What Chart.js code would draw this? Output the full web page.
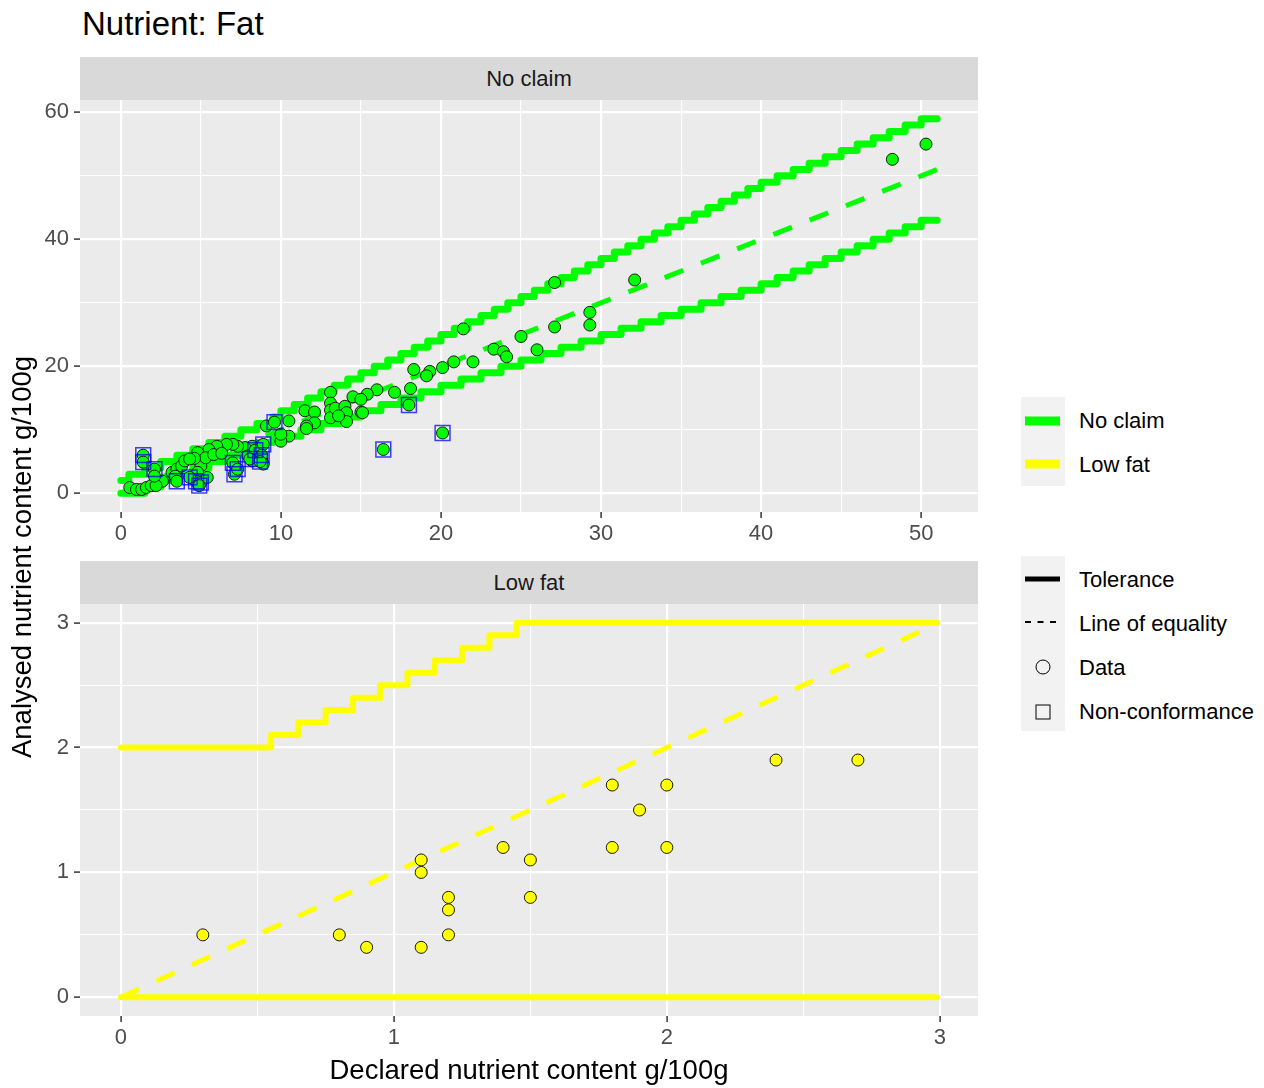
<!DOCTYPE html>
<html>
<head>
<meta charset="utf-8">
<script src="https://cdn.jsdelivr.net/npm/chart.js@4.4.0/dist/chart.umd.min.js"></script>
<style>
  body { margin: 0; width: 1264px; height: 1088px; background: #fff; position: relative; overflow: hidden;
         font-family: "Liberation Sans", Arial, sans-serif; }
  .abs { position: absolute; }
  .strip { left: 80px; width: 898px; height: 43px; background: #D9D9D9; color: #1A1A1A;
           font-size: 22px; line-height: 43px; text-align: center; }
  .lab { left: 1079px; font-size: 22px; line-height: 26px; color: #000; white-space: nowrap; }
</style>
</head>
<body>
<div class="abs" style="left:82px;top:4px;font-size:33px;line-height:40px;color:#000">Nutrient: Fat</div>

<div class="abs strip" style="top:57px">No claim</div>
<div class="abs strip" style="top:561px">Low fat</div>

<canvas id="topChart" class="abs" width="1000" height="452" style="left:0;top:100px"></canvas>
<canvas id="lowChart" class="abs" width="1000" height="452" style="left:0;top:604px"></canvas>

<div class="abs" style="left:229px;top:1054px;width:600px;text-align:center;font-size:27.5px;line-height:32px;color:#000">Declared nutrient content g/100g</div>
<div class="abs" style="left:-278px;top:541px;width:600px;text-align:center;font-size:27.5px;line-height:32px;color:#000;transform:rotate(-90deg)">Analysed nutrient content g/100g</div>

<!-- legends -->
<svg class="abs" style="left:1021px;top:397px" width="44" height="89">
  <rect x="0" y="0" width="44" height="89" fill="#F2F2F2"/>
  <line x1="4" y1="24" x2="39" y2="24" stroke="#00FF00" stroke-width="9"/>
  <line x1="4" y1="67" x2="39" y2="67" stroke="#FFFF00" stroke-width="9"/>
</svg>
<div class="abs lab" style="top:408px">No claim</div>
<div class="abs lab" style="top:452px">Low fat</div>

<svg class="abs" style="left:1021px;top:556px" width="44" height="175">
  <rect x="0" y="0" width="44" height="175" fill="#F2F2F2"/>
  <line x1="4" y1="23" x2="39" y2="23" stroke="#000" stroke-width="5"/>
  <line x1="4" y1="66" x2="39" y2="66" stroke="#000" stroke-width="1.8" stroke-dasharray="6,6.5"/>
  <circle cx="22" cy="111" r="7" fill="none" stroke="#000" stroke-width="1"/>
  <rect x="15" y="149" width="14" height="14" fill="none" stroke="#000" stroke-width="1"/>
</svg>
<div class="abs lab" style="top:567px">Tolerance</div>
<div class="abs lab" style="top:611px">Line of equality</div>
<div class="abs lab" style="top:655px">Data</div>
<div class="abs lab" style="top:699px">Non-conformance</div>

<script>
// ---- No claim panel: data points ----
const noClaimX = [50.3, 48.2, 32.1, 27.1, 29.3, 29.3, 27.1, 26.0, 25.0, 23.3, 23.9, 24.1, 22.0, 20.8, 20.1,
  19.3, 19.1, 18.3, 18.1, 21.4, 17.1, 16.0, 15.4, 14.5, 15.0, 15.0, 13.1, 13.1, 13.1, 13.1, 13.4, 14.0, 14.1,
  14.1, 13.6, 11.5, 12.1, 12.1, 11.6, 11.6, 10.5, 10.5, 10.0, 10.0, 9.1, 15.1, 18.0, 20.1, 16.4, 9.6,
  8.7, 8.2, 7.75, 7.3, 7.0, 6.6, 6.0, 5.5, 4.8, 8.6, 8.8, 8.9, 7.0, 7.1, 7.95, 8.2, 5.0, 4.8, 4.7, 5.0,
  5.4, 5.3, 5.8, 6.3, 4.6, 2.2, 2.6, 3.2, 3.5, 3.8, 4.0, 4.3, 0.56, 0.98, 1.3, 1.6, 1.9, 2.2, 1.4, 1.4,
  2.1, 2.1, 3.4, 3.5, 4.3, 4.9, 8.4, 8.9, 8.8, 8.06, 7.3, 8.7];
const noClaimY = [55.0, 52.6, 33.6, 33.2, 28.5, 26.5, 26.2, 22.6, 24.7, 22.7, 22.3, 21.5, 20.7, 20.7, 19.8,
  19.2, 18.5, 19.5, 16.5, 25.9, 15.9, 16.3, 15.6, 15.2, 14.8, 12.8, 15.9, 14.2, 13.1, 11.9, 13.4, 13.7, 12.7,
  11.3, 12.2, 13.0, 12.8, 11.1, 10.6, 10.2, 11.4, 9.0, 8.2, 9.3, 10.6, 12.7, 13.9, 9.5, 6.9, 11.2,
  7.4, 7.4, 7.2, 7.4, 7.7, 7.7, 7.4, 6.9, 6.4, 6.4, 5.4, 4.6, 4.8, 3.0, 5.9, 5.1, 4.3, 3.3, 1.9, 1.7,
  2.5, 5.6, 6.1, 6.3, 5.5, 2.2, 1.9, 3.3, 3.8, 4.3, 5.1, 5.4, 0.9, 0.6, 0.6, 0.9, 1.2, 1.2, 6.0, 4.9,
  3.8, 2.7, 2.7, 1.9, 2.5, 1.2, 6.8, 7.7, 6.0, 5.4, 3.8, 5.0];

// No claim: non-conformance samples
const nonConfX = [18.0, 20.1, 16.4, 9.6, 7.0, 7.1, 4.7, 5.0, 1.4, 1.4, 2.1, 3.5, 4.3, 4.9, 8.4, 8.9, 8.8, 8.06, 7.3, 8.7];
const nonConfY = [13.9, 9.5, 6.9, 11.2, 4.8, 3.0, 1.9, 1.7, 6.0, 4.9, 3.8, 1.9, 2.5, 1.2, 6.8, 7.7, 6.0, 5.4, 3.8, 5.0];

// No claim: tolerance limits (x where each level starts) and line of equality
const ncUpperX = [0, 0.5, 1.5, 2.5, 3.5, 4.5, 5.5, 6.5, 7.5, 8.5, 9.5, 10, 10.83, 11.67, 12.5, 13.33, 14.17, 15,
  15.83, 16.67, 17.5, 18.33, 19.17, 20, 20.83, 21.67, 22.5, 23.33, 24.17, 25, 25.83, 26.67, 27.5, 28.33,
  29.17, 30, 30.83, 31.67, 32.5, 33.33, 34.17, 35, 35.83, 36.67, 37.5, 38.33, 39.17, 40, 41, 42, 43, 44,
  45, 46, 47, 48, 49, 50, 51];
const ncUpperY = [2, 3, 4, 5, 6, 7, 8, 9, 10, 11, 12, 13, 14, 15, 16, 17, 18, 19, 20, 21, 22, 23, 24, 25, 26,
  27, 28, 29, 30, 31, 32, 33, 34, 35, 36, 37, 38, 39, 40, 41, 42, 43, 44, 45, 46, 47, 48, 49, 50, 51, 52,
  53, 54, 55, 56, 57, 58, 59, 59];
const ncLowerX = [0, 1.5, 2.5, 3.5, 4.5, 5.5, 6.5, 7.5, 8.5, 9.5, 11.25, 12.5, 13.75, 15, 16.25, 17.5, 18.75,
  20, 21.25, 22.5, 23.75, 25, 26.25, 27.5, 28.75, 30, 31.25, 32.5, 33.75, 35, 36.25, 37.5, 38.75, 40, 41,
  42, 43, 44, 45, 46, 47, 48, 49, 50, 51];
const ncLowerY = [0, 1, 2, 3, 4, 5, 6, 7, 8, 9, 10, 11, 12, 13, 14, 15, 16, 17, 18, 19, 20, 21, 22, 23, 24,
  25, 26, 27, 28, 29, 30, 31, 32, 33, 34, 35, 36, 37, 38, 39, 40, 41, 42, 43, 43];
const ncEqualX = [0, 51];
const ncEqualY = [0, 51];

// ---- Low fat panel ----
const lowFatX = [0.3, 0.8, 0.9, 1.1, 1.1, 1.1, 1.2, 1.2, 1.2, 1.4, 1.5, 1.5, 1.8, 1.8, 1.9, 2.0, 2.0, 2.4, 2.7];
const lowFatY = [0.5, 0.5, 0.4, 1.1, 1.0, 0.4, 0.8, 0.7, 0.5, 1.2, 1.1, 0.8, 1.7, 1.2, 1.5, 1.7, 1.2, 1.9, 1.9];
const lfUpperX = [0, 0.55, 0.65, 0.75, 0.85, 0.95, 1.05, 1.15, 1.25, 1.35, 1.45, 2.99];
const lfUpperY = [2.0, 2.1, 2.2, 2.3, 2.4, 2.5, 2.6, 2.7, 2.8, 2.9, 3.0, 3.0];
const lfLowerX = [0, 2.99];
const lfLowerY = [0, 0];
const lfEqualX = [0, 2.99];
const lfEqualY = [0, 2.99];

// ---- axis breaks ----
const topXMajor = [0, 10, 20, 30, 40, 50];
const topXMinor = [5, 15, 25, 35, 45];
const topYMajor = [0, 20, 40, 60];
const topYMinor = [10, 30, 50];
const lowMajor = [0, 1, 2, 3];
const lowMinor = [0.5, 1.5, 2.5];

const pts = (xs, ys) => xs.map((x, i) => ({x: x, y: ys[i]}));

Chart.defaults.font.family = '"Liberation Sans", Arial, sans-serif';

const panelBg = {
  id: 'panelBg',
  beforeDraw(chart) {
    const {ctx, chartArea: a} = chart;
    ctx.save();
    ctx.fillStyle = '#EBEBEB';
    ctx.fillRect(a.left, a.top, a.right - a.left, a.bottom - a.top);
    ctx.restore();
  }
};

function axis(min, max, major, minor, horizontal) {
  return {
    type: 'linear', min: min, max: max,
    afterBuildTicks: s => { s.ticks = major.concat(minor).sort((a, b) => a - b).map(v => ({value: v})); },
    afterFit: s => {
      if (horizontal) { s.height = 40; s.paddingLeft = 0; s.paddingRight = 0; }
      else { s.width = 80; s.paddingTop = 0; s.paddingBottom = 0; }
    },
    grid: {
      color: '#FFFFFF',
      lineWidth: c => major.includes(c.tick.value) ? 2.2 : 1.1,
      tickColor: c => major.includes(c.tick.value) ? '#333333' : 'rgba(0,0,0,0)',
      tickLength: 6,
      tickWidth: 1.5,
    },
    border: { display: false },
    ticks: {
      autoSkip: false, maxRotation: 0, padding: horizontal ? 3 : 5,
      color: '#4D4D4D', font: { size: 22 },
      callback: v => major.includes(v) ? String(v) : '',
    },
  };
}

function panel(canvasId, colour, tolWidth, points, nonConf, upper, lower, equal, xScale, yScale) {
  const datasets = [];
  if (nonConf) {
    datasets.push({ data: nonConf, pointStyle: 'rect', pointRadius: 10.5, pointBackgroundColor: 'rgba(0,0,0,0)',
      pointBorderColor: 'rgba(0,0,255,0.75)', pointBorderWidth: 1.5, order: 0 });
  }
  datasets.push(
    { data: points, pointRadius: 6, pointBackgroundColor: colour, pointBorderColor: '#1A1A1A', pointBorderWidth: 1, order: 1 },
    { data: equal, showLine: true, borderColor: colour, borderWidth: 5, borderDash: [20, 19], pointRadius: 0, order: 2 },
    { data: upper, showLine: true, stepped: 'before', borderColor: colour, borderWidth: tolWidth, borderJoinStyle: 'round',
      borderCapStyle: 'round', pointRadius: 0, order: 3 },
    { data: lower, showLine: true, stepped: 'before', borderColor: colour, borderWidth: tolWidth, borderJoinStyle: 'round',
      borderCapStyle: 'round', pointRadius: 0, order: 3 }
  );
  return new Chart(document.getElementById(canvasId), {
    type: 'scatter',
    data: { datasets: datasets },
    options: {
      responsive: false, animation: false, devicePixelRatio: 1, events: [],
      layout: { autoPadding: false, padding: { left: 0, right: 22, top: 0, bottom: 0 } },
      plugins: { legend: { display: false }, tooltip: { enabled: false } },
      scales: { x: xScale, y: yScale },
    },
    plugins: [panelBg],
  });
}

panel('topChart', '#00FF00', 7, pts(noClaimX, noClaimY), pts(nonConfX, nonConfY),
  pts(ncUpperX, ncUpperY), pts(ncLowerX, ncLowerY), pts(ncEqualX, ncEqualY),
  axis(-2.55, 53.55, topXMajor, topXMinor, true), axis(-2.95, 61.95, topYMajor, topYMinor, false));

panel('lowChart', '#FFFF00', 6, pts(lowFatX, lowFatY), null,
  pts(lfUpperX, lfUpperY), pts(lfLowerX, lfLowerY), pts(lfEqualX, lfEqualY),
  axis(-0.15, 3.14, lowMajor, lowMinor, true), axis(-0.15, 3.15, lowMajor, lowMinor, false));
</script>
</body>
</html>
